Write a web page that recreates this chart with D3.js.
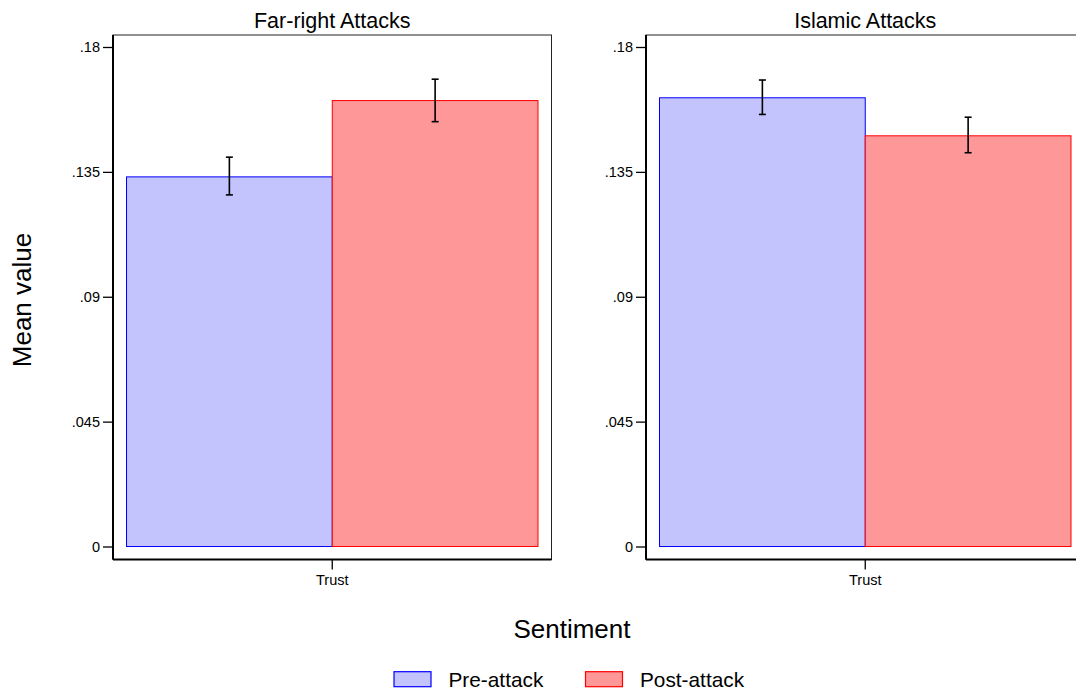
<!DOCTYPE html>
<html><head><meta charset="utf-8">
<script src="https://cdn.jsdelivr.net/npm/d3@7"></script>
<style>body{margin:0;background:#fff;} svg{display:block;font-family:"Liberation Sans",Arial,sans-serif;}</style>
</head><body>
<svg id="c" width="1076" height="696"></svg>
<script>
const panels = ["Far-right Attacks", "Islamic Attacks"];
const categories = ["Trust"];
const series = ["Pre-attack", "Post-attack"];
const means = [[0.1332, 0.1607], [0.1617, 0.1480]];
const lower = [[0.1267, 0.1531], [0.1557, 0.1419]];
const upper = [[0.1403, 0.1684], [0.1681, 0.1547]];
const yTicks = [0, 0.045, 0.09, 0.135, 0.18];
const yTickLabels = ["0", ".045", ".09", ".135", ".18"];

const fills = ["#c3c3fd", "#fe9797"];
const strokes = ["#0000ff", "#ff0000"];

const svg = d3.select("#c");
const panelX = [113, 646];
const plotTop = 35, plotBottom = 559.5, pw = 438.5;
const ph = plotBottom - plotTop;
const y = d3.scaleLinear().domain([0, 0.18]).range([511.5, 12]);
const pad = 13.5;
const FONT = "Liberation Sans, Arial, sans-serif";

panels.forEach((title, pi) => {
  const g = svg.append("g").attr("transform", `translate(${panelX[pi]},${plotTop})`);
  const x0 = d3.scaleBand().domain(categories).range([pad, pw - pad]).padding(0);
  const x1 = d3.scaleBand().domain(series).range([0, x0.bandwidth()]).padding(0);

  g.append("rect").attr("x", 0).attr("y", 0).attr("width", pw).attr("height", ph)
    .attr("fill", "none").attr("stroke", "#222").attr("stroke-width", 1);

  categories.forEach((cat, ci) => {
    series.forEach((s, si) => {
      const v = means[pi][si];
      g.append("rect")
        .attr("x", x0(cat) + x1(s))
        .attr("y", y(v))
        .attr("width", x1.bandwidth())
        .attr("height", y(0) - y(v))
        .attr("fill", fills[si]).attr("stroke", strokes[si]).attr("stroke-width", 1);
    });
    series.forEach((s, si) => {
      const cx = x0(cat) + x1(s) + x1.bandwidth() / 2;
      const lo = y(lower[pi][si]), hi = y(upper[pi][si]);
      const eg = g.append("g").attr("stroke", "#000").attr("stroke-width", 1.6);
      eg.append("line").attr("x1", cx).attr("x2", cx).attr("y1", lo).attr("y2", hi);
      eg.append("line").attr("x1", cx - 3.5).attr("x2", cx + 3.5).attr("y1", lo).attr("y2", lo);
      eg.append("line").attr("x1", cx - 3.5).attr("x2", cx + 3.5).attr("y1", hi).attr("y2", hi);
    });
  });

  const ya = d3.axisLeft(y).tickValues(yTicks).tickSize(10).tickPadding(3)
    .tickFormat((d, i) => yTickLabels[i]);
  const yg = g.append("g").call(ya).attr("font-size", 14.5).attr("font-family", FONT);
  yg.select(".domain").attr("stroke", "#000").attr("stroke-width", 2).attr("d", `M0,0V${ph}`);
  yg.selectAll(".tick line").attr("stroke", "#000").attr("stroke-width", 1.3);
  yg.selectAll(".tick text").attr("fill", "#000");

  const xa = d3.axisBottom(x0).tickSize(10).tickPadding(5);
  const xg = g.append("g").attr("transform", `translate(0,${ph})`)
    .call(xa).attr("font-size", 14.5).attr("font-family", FONT);
  xg.select(".domain").attr("stroke", "#000").attr("stroke-width", 2).attr("d", `M0,0H${pw}`);
  xg.selectAll(".tick line").attr("stroke", "#000").attr("stroke-width", 1.3);
  xg.selectAll(".tick text").attr("fill", "#000");

  g.append("text").attr("x", pw / 2).attr("y", -7.3).attr("text-anchor", "middle")
    .attr("font-size", 21.5).attr("fill", "#000").text(title);
});

svg.append("text").attr("transform", "translate(31,300) rotate(-90)").attr("text-anchor", "middle")
  .attr("font-size", 26).attr("fill", "#000").text("Mean value");
svg.append("text").attr("x", 572).attr("y", 637.5).attr("text-anchor", "middle")
  .attr("font-size", 26).attr("fill", "#000").text("Sentiment");

const legX = [394, 585.5];
series.forEach((s, si) => {
  svg.append("rect").attr("x", legX[si]).attr("y", 671.7).attr("width", 37).attr("height", 15)
    .attr("fill", fills[si]).attr("stroke", strokes[si]).attr("stroke-width", 1.2);
  svg.append("text").attr("x", legX[si] + 54.5).attr("y", 687.3).attr("font-size", 20.8)
    .attr("fill", "#000").text(s);
});
</script>
</body></html>
